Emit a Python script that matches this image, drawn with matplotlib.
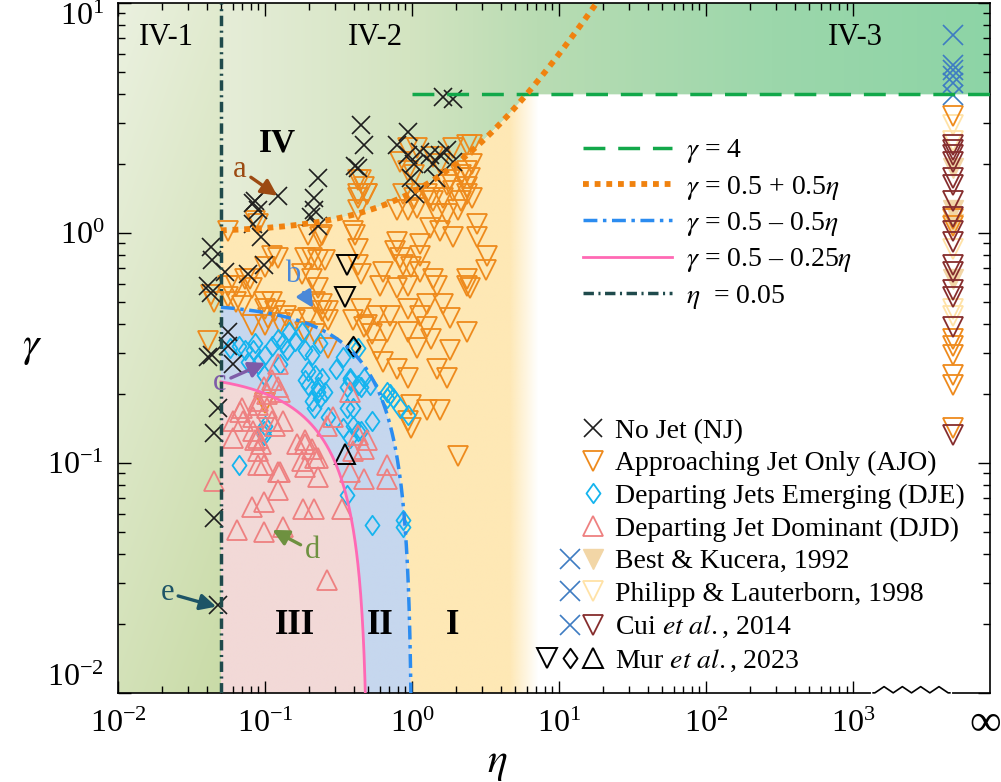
import numpy as np
import matplotlib
matplotlib.use('Agg')
import matplotlib.pyplot as plt
from matplotlib.patches import Polygon
from matplotlib.path import Path
from matplotlib.lines import Line2D
from matplotlib.legend_handler import HandlerTuple
from matplotlib.ticker import FixedLocator, NullFormatter
from matplotlib.colors import to_rgb

plt.rcParams['font.family'] = ['Liberation Serif', 'DejaVu Serif']
plt.rcParams['mathtext.fontset'] = 'stix'

# ---------------- data: (log10 eta, log10 gamma) ----------------
nj = [(-1.37, -0.06), (-1.36, -0.12), (-1.27, -0.17), (-1.39, -0.23), (-1.37, -0.26),
      (-1.25, -0.43), (-1.25, -0.49), (-1.36, -0.53), (-1.39, -0.54), (-1.22, -0.57),
      (-1.32, -0.76), (-1.35, -0.87), (-1.35, -1.24), (-1.32, -1.62),
      (-1.07, 0.14), (-1.08, 0.13), (-1.05, 0.10), (-1.08, 0.04), (-1.03, -0.02),
      (-0.91, 0.16), (-1.01, -0.14), (-1.12, -0.18),
      (-0.64, 0.24), (-0.67, 0.15), (-0.67, 0.10), (-0.69, 0.07), (-0.64, 0.03),
      (-0.35, 0.47), (-0.33, 0.38), (-0.39, 0.29), (-0.37, 0.28),
      (-0.03, 0.44), (-0.10, 0.38), (-0.03, 0.34), (0.01, 0.30), (-0.01, 0.24), (0.02, 0.17),
      (0.05, 0.35), (0.12, 0.34), (0.14, 0.30), (0.19, 0.34), (0.24, 0.36), (0.28, 0.31),
      (0.21, 0.59), (0.28, 0.58), (0.16, 0.24)]

ajo = [(-1.25, 0.01), (-1.37, -0.27), (-1.35, -0.30), (-1.07, 0.05), (-1.05, 0.04),
       (-0.95, -0.10), (-0.91, -0.11), (-1.00, -0.15), (-1.25, -0.23), (-1.20, -0.23),
       (-1.14, -0.20), (-1.10, -0.20), (-1.09, -0.24), (-1.25, -0.28), (-1.20, -0.30),
       (-1.16, -0.32), (-1.01, -0.30), (-1.00, -0.33), (-0.95, -0.30), (-0.93, -0.34),
       (-0.86, -0.36), (-0.80, -0.38), (-0.73, -0.11), (-0.68, -0.11), (-0.64, -0.12),
       (-0.59, -0.12), (-0.71, -0.01), (-0.63, -0.02), (-0.75, -0.18), (-0.68, -0.20),
       (-0.64, -0.24), (-0.66, -0.30), (-0.61, -0.34), (-0.71, -0.37), (-0.57, -0.38),
       (-0.98, -0.37), (-0.90, -0.39), (-1.09, -0.40), (-1.00, -0.40), (-0.73, -0.43),
       (-0.66, -0.44), (-0.57, -0.50), (-1.39, -0.47), (-1.00, -0.74),
       (-0.35, 0.23), (-0.37, 0.17), (-0.31, 0.17), (-0.37, 0.10), (-0.10, 0.10),
       (-0.03, 0.10), (0.03, 0.11), (-0.40, 0.01), (-0.39, -0.01), (-0.37, -0.07),
       (-0.61, -0.01), (-0.10, -0.04), (-0.12, -0.08), (0.05, -0.05), (0.05, -0.10),
       (0.17, 0.08), (0.24, 0.08), (0.31, 0.10), (0.12, 0.02), (0.19, 0.01),
       (0.28, -0.02), (0.44, 0.04), (0.44, -0.02), (0.33, 0.14), (0.37, 0.20),
       (0.39, 0.24), (0.35, 0.24), (0.26, 0.23), (0.21, 0.15), (0.12, 0.15),
       (-0.06, 0.17), (0.01, 0.15), (-0.08, -0.11), (-0.06, -0.14), (-0.01, -0.15),
       (0.05, -0.17), (-0.20, -0.17), (-0.22, -0.23), (-0.10, -0.24), (-0.03, -0.23),
       (0.14, -0.20), (0.17, -0.23), (0.37, -0.20), (0.37, -0.23), (0.39, -0.24),
       (0.10, -0.31), (0.21, -0.31), (0.26, -0.37), (0.05, -0.36), (-0.03, -0.33),
       (-0.15, -0.36), (-0.24, -0.36), (-0.35, -0.33), (-0.31, -0.40), (-0.40, -0.38),
       (-0.57, -0.34), (-0.61, -0.31), (-0.35, -0.18), (-0.37, -0.14), (0.37, -0.43),
       (-0.17, -0.43), (-0.03, -0.43), (0.10, -0.41), (0.03, -0.50), (0.13, -0.46),
       (0.26, -0.51), (0.17, -0.59), (0.24, -0.63), (-0.10, -0.59), (-0.03, -0.63),
       (-0.20, -0.56), (-0.24, -0.51), (-0.01, -0.75), (0.10, -0.77), (0.19, -0.77),
       (-0.03, -0.82), (-0.01, -0.85), (0.31, -0.97), (-0.33, -0.41), (-0.27, -0.44),
       (-0.03, 0.37), (0.03, 0.37), (-0.08, 0.31), (-0.03, 0.27), (0.01, 0.25),
       (0.14, 0.33), (0.19, 0.30), (0.28, 0.37), (0.37, 0.38), (0.41, 0.38),
       (0.33, 0.25), (0.37, 0.27), (0.41, 0.30), (0.24, 0.21), (0.28, 0.18),
       (0.37, 0.17), (0.41, 0.15), (-0.37, 0.23), (-0.33, 0.20), (-0.31, 0.17),
       (-0.37, 0.15), (0.10, 0.17), (0.14, 0.14), (0.51, -0.10), (0.50, -0.16)]

dje = [(-1.18, -0.49), (-1.14, -0.51), (-1.08, -0.51), (-1.12, -0.56), (-1.05, -0.57),
       (-1.01, -0.62), (-1.00, -0.53), (-0.95, -0.49), (-0.91, -0.46), (-0.84, -0.43),
       (-0.80, -0.47), (-0.75, -0.43), (-0.73, -0.51), (-0.68, -0.53), (-0.71, -0.60),
       (-0.66, -0.62), (-0.61, -0.63), (-0.73, -0.64), (-0.64, -0.69), (-0.59, -0.69),
       (-0.68, -0.73), (-0.57, -0.80), (-1.00, -0.84), (-1.01, -0.88), (-1.18, -1.01),
       (-0.52, -0.59), (-0.85, -0.51), (-0.90, -0.57), (-0.71, -0.66), (-0.64, -0.67),
       (-0.63, -0.72), (-0.67, -0.76), (-1.01, -0.86), (-0.44, -0.76), (-0.40, -0.84),
       (-0.47, -0.85), (-0.27, -0.82), (-0.35, -0.86), (-0.44, -1.14), (-0.27, -1.27),
       (-0.06, -1.25), (-0.06, -1.28), (-0.03, -0.79), (-0.17, -0.72), (-0.13, -0.72),
       (-0.17, -0.69), (-0.37, -0.50), (-0.35, -0.67), (-0.42, -0.64), (-0.40, -0.50),
       (-0.47, -0.54), (-0.42, -0.63), (-0.37, -0.66), (-0.44, -0.67), (-0.33, -0.63),
       (-0.29, -0.66), (-0.40, -0.76), (-0.37, -0.86), (-0.42, -0.89), (-0.15, -0.70),
       (-0.08, -0.76), (-1.24, -0.50), (-1.07, -0.48), (-0.88, -0.48), (-0.63, -0.48)]

djd = [(-1.17, -0.78), (-1.22, -0.82), (-1.22, -0.89), (-1.05, -0.89), (-1.03, -0.92),
       (-1.05, -0.95), (-1.01, -1.01), (-0.90, -1.04), (-1.09, -1.19), (-1.01, -1.17),
       (-0.91, -1.12), (-1.35, -1.08), (-1.19, -1.29), (-1.01, -1.30), (-0.88, -1.28),
       (-0.74, -1.20), (-0.67, -1.20), (-0.48, -1.20), (-0.73, -0.92), (-0.66, -0.98),
       (-0.64, -1.06), (-0.73, -1.02), (-0.58, -1.51), (-0.42, -1.04), (-0.33, -1.07),
       (-0.17, -1.01), (-0.17, -1.07), (-0.37, -0.88), (-0.33, -0.94), (-0.40, -0.95),
       (-0.58, -0.84), (-0.54, -0.80), (-0.99, -0.76), (-0.95, -0.82), (-0.90, -0.69),
       (-0.99, -0.70), (-1.05, -0.75), (-1.15, -0.82), (-1.08, -0.86), (-0.95, -0.64),
       (-0.91, -0.67), (-1.01, -0.67), (-1.05, -0.73), (-1.16, -0.76), (-1.08, -0.80),
       (-1.07, -0.90), (-0.93, -0.84), (-0.88, -0.82), (-0.91, -0.57), (-0.73, -0.90),
       (-0.78, -0.92), (-0.68, -0.94), (-0.64, -0.98), (-0.75, -0.99), (-1.05, -1.01),
       (-0.91, -1.04), (-0.42, -0.69), (-0.31, -0.90)]

mur_down = [(-0.44, -0.14), (-0.46, -0.28)]
mur_diamond = [(-0.40, -0.49)]
mur_up = [(-0.46, -0.96)]

# eta -> infinity column (log10 gamma only)
ETA_INF = 4.8e3
inf_nj_lg = [0.86, 0.73, 0.71, 0.68, 0.65, 0.60]
inf_ajo_lg = [0.51, 0.06, 0.03, -0.46, -0.49, -0.53, -0.62, -0.66, -0.85]
inf_best_lg = [0.28, 0.10, 0.04, -0.20]
inf_philipp_lg = [0.47, 0.40, -0.07, -0.36, -0.33]
inf_cui_lg = [0.38, 0.36, 0.34, 0.31, 0.24, 0.21, 0.14, 0.07, 0.01, -0.04,
              -0.14, -0.17, -0.25, -0.28, -0.41, -0.88]

ETA0 = 0.05
XMIN, XMAX = 1e-2, 10 ** 3.93
YMIN, YMAX = 1e-2, 1e1


def xy(pts):
    a = 10 ** np.array(pts, dtype=float)
    return a[:, 0], a[:, 1]


def upper_iv(e):
    return np.minimum(1 + 0.5 * e, 4.0)


def blue_curve(e):
    return 0.5 - 0.5 * e


def pink_curve(e):
    return 0.25 - 0.5 * e


fig = plt.figure(figsize=(10.01, 7.82), dpi=100)
ax = fig.add_axes([0.118, 0.114, 0.871, 0.8824])
ax.set_xscale('log')
ax.set_yscale('log')
ax.set_xlim(XMIN, XMAX)
ax.set_ylim(YMIN, YMAX)

# ---------------- shaded regions ----------------
nx, ny = 700, 300
U, V = np.meshgrid(np.linspace(0, 1, nx), np.linspace(0, 1, ny))
u0 = (np.log10(ETA0) + 2) / (np.log10(XMAX) + 2)


def shade(verts, img):
    patch = Polygon(verts, closed=True, transform=ax.transData, fc='none', ec='none')
    ax.add_patch(patch)
    im = ax.imshow(img, extent=[0, 1, 0, 1], transform=ax.transAxes, origin='lower',
                   aspect='auto', interpolation='bilinear', zorder=0)
    im.set_clip_path(patch)


# IV-1
c_l, c_d = np.array(to_rgb('#EBF1E0')), np.array(to_rgb('#C9DBA7'))
t = np.clip(0.3 * U / u0 + 0.7 * (1 - V), 0, 1)[..., None]
img = np.concatenate([c_l * (1 - t) + c_d * t, np.ones((ny, nx, 1))], axis=2)
shade([(XMIN, YMIN), (ETA0, YMIN), (ETA0, YMAX), (XMIN, YMAX)], img)

# IV-2 / IV-3 band
stops = [0.0, u0, 0.335, 0.48, 0.75, 1.0]
cols = [to_rgb(c) for c in ['#E6EDD8', '#E6EDD8', '#D3E4C1', '#B9DCB3', '#9CD7AB', '#8DD4A6']]
img = np.ones((ny, nx, 4))
for k in range(3):
    img[..., k] = np.interp(U, stops, [c[k] for c in cols])
e = np.logspace(np.log10(ETA0), np.log10(XMAX), 600)
verts = list(zip(e, upper_iv(e))) + [(XMAX, YMAX), (ETA0, YMAX)]
shade(verts, img)

# I (fades to white)
e = np.logspace(np.log10(ETA0), 1.2, 600)
lo = np.clip(blue_curve(e), YMIN, None)
verts = list(zip(e, upper_iv(e))) + list(zip(e[::-1], lo[::-1]))
img = np.ones((ny, nx, 4))
img[..., :3] = to_rgb('#FEE8B5')
ua, ub = (np.log10(4.6) + 2) / 5.93, (np.log10(7.2) + 2) / 5.93
img[..., 3] = np.clip((ub - U) / (ub - ua), 0, 1)
shade(verts, img)

# II
e = np.concatenate([np.logspace(np.log10(ETA0), np.log10(0.9), 300), np.linspace(0.9, 0.99999, 300)[1:]])
hi = np.clip(blue_curve(e), YMIN, None)
lo = np.clip(pink_curve(e), YMIN, None)
img = np.ones((ny, nx, 4))
img[..., :3] = to_rgb('#C6D7EE')
shade(list(zip(e, hi)) + list(zip(e[::-1], lo[::-1])), img)

# III
img = np.ones((ny, nx, 4))
img[..., :3] = to_rgb('#F2D9D7')
shade(list(zip(e, lo)) + [(e[-1], YMIN), (ETA0, YMIN)], img)

# ---------------- data points ----------------
ms = 14
diamond = Path([(0, 1), (0.72, 0), (0, -1), (-0.72, 0), (0, 1)],
               [Path.MOVETO, Path.LINETO, Path.LINETO, Path.LINETO, Path.CLOSEPOLY])

x, y = xy(ajo)
h_ajo, = ax.plot(x, y, 'v', ms=ms, mfc='none', mec='#EE8A1C', mew=1.3, ls='none', zorder=3)
x, y = xy(dje)
h_dje, = ax.plot(x, y, marker=diamond, ms=ms, mfc='none', mec='#15B4EE', mew=1.3, ls='none', zorder=3)
x, y = xy(djd)
h_djd, = ax.plot(x, y, '^', ms=ms, mfc='none', mec='#EE8080', mew=1.3, ls='none', zorder=3)
x, y = xy(nj)
h_nj, = ax.plot(x, y, 'x', ms=13, color='#1E1E1E', mew=1.2, ls='none', zorder=3.5)

x, y = xy(mur_down)
h_mv, = ax.plot(x, y, 'v', ms=ms, mfc='none', mec='black', mew=1.4, ls='none', zorder=3.6)
x, y = xy(mur_diamond)
h_md, = ax.plot(x, y, marker=diamond, ms=ms, mfc='none', mec='black', mew=1.4, ls='none', zorder=3.6)
x, y = xy(mur_up)
h_mu, = ax.plot(x, y, '^', ms=ms, mfc='none', mec='black', mew=1.4, ls='none', zorder=3.6)

h_best, = ax.plot([ETA_INF] * len(inf_best_lg), 10 ** np.array(inf_best_lg), 'v', ms=ms,
                  mfc='#F2D6A6', mec='#F2D6A6', ls='none', zorder=3)
h_phil, = ax.plot([ETA_INF] * len(inf_philipp_lg), 10 ** np.array(inf_philipp_lg), 'v', ms=ms,
                  mfc='none', mec='#FFE2A6', mew=1.3, ls='none', zorder=3)
ax.plot([ETA_INF] * len(inf_ajo_lg), 10 ** np.array(inf_ajo_lg), 'v', ms=ms,
        mfc='none', mec='#EE8A1C', mew=1.3, ls='none', zorder=3)
h_cui, = ax.plot([ETA_INF] * len(inf_cui_lg), 10 ** np.array(inf_cui_lg), 'v', ms=ms,
                 mfc='none', mec='#862D2D', mew=1.3, ls='none', zorder=3.2)
h_bx, = ax.plot([ETA_INF] * len(inf_nj_lg), 10 ** np.array(inf_nj_lg), 'x', ms=14,
                color='#3E7CC2', mew=1.2, ls='none', zorder=3.5)

# ---------------- boundary lines ----------------
e = np.logspace(0, np.log10(XMAX), 50)
l_g4, = ax.plot(e, np.full_like(e, 4.0), color='#12A84A', lw=2.5, ls=(0, (6.3, 3.7)), zorder=4)
e = np.logspace(np.log10(ETA0), 1.4, 300)
l_or, = ax.plot(e, 1 + 0.5 * e, color='#F0820F', lw=4.2, ls=(0, (1, 1)), zorder=4)
e = np.concatenate([np.logspace(np.log10(ETA0), np.log10(0.9), 300), np.linspace(0.9, 0.99999, 300)[1:]])
l_bl, = ax.plot(e, blue_curve(e), color='#2B8CF0', lw=2.5, ls=(0, (4, 1.6, 1, 1.6)), zorder=4)
e = np.concatenate([np.logspace(np.log10(ETA0), np.log10(0.45), 300), np.linspace(0.45, 0.49999, 300)[1:]])
l_pk, = ax.plot(e, pink_curve(e), color='#FF69B4', lw=2.0, zorder=4)
l_e0 = ax.axvline(ETA0, color='#1F4A4C', lw=2.5, ls=(0, (3, 1.3, 0.6, 1.3)), zorder=4)

# ---------------- axes cosmetics ----------------
xt = [1e-2, 1e-1, 1e0, 1e1, 1e2, 1e3]
ax.set_xticks(xt, labels=[r'$\mathdefault{10^{%d}}$' % k for k in range(-2, 4)])
ax.xaxis.set_minor_locator(FixedLocator([m * 10.0 ** d for d in range(-2, 3) for m in range(2, 10)]))
ax.xaxis.set_minor_formatter(NullFormatter())
yt = [1e-2, 1e-1, 1e0, 1e1]
ax.set_yticks(yt, labels=[r'$\mathdefault{10^{%d}}$' % k for k in range(-2, 2)])
ax.yaxis.set_minor_locator(FixedLocator([m * 10.0 ** d for d in range(-2, 1) for m in range(2, 10)]))
ax.yaxis.set_minor_formatter(NullFormatter())
ax.tick_params(which='both', direction='in', top=True, right=True, labelsize=23, width=1.0)
ax.tick_params(which='major', length=9)
ax.tick_params(which='minor', length=5)
ax.tick_params(axis='x', which='major', pad=12)
ax.tick_params(axis='y', which='major', pad=10)
for lbl in ax.get_yticklabels():
    if '{1}' in lbl.get_text():
        lbl.set_va('top')
    if '{-2}' in lbl.get_text():
        lbl.set_va('bottom')
for s in ax.spines.values():
    s.set_linewidth(1.2)

ax.text(0.994, -0.045, '∞', transform=ax.transAxes, fontsize=32, ha='center', va='center')

# axis break on the bottom spine
ax.plot([0.866, 0.954], [0, 0], color='white', lw=3, transform=ax.transAxes, clip_on=False, zorder=5)
zx = np.linspace(0.868, 0.952, 9)
zy = [0, 0.009, 0, 0.009, 0, 0.009, 0, 0.009, 0]
ax.plot([0.866] + list(zx) + [0.954], [0] + zy + [0], color='black', lw=1.2,
        transform=ax.transAxes, clip_on=False, zorder=6)

ax.set_xlabel(r'$\eta$', fontsize=30)
ax.xaxis.set_label_coords(0.435, -0.075)
ax.set_ylabel(r'$\gamma$', fontsize=30, rotation=0, va='center', ha='center')
ax.yaxis.set_label_coords(-0.099, 0.5)

# region labels
for s, ex, gy in [('IV-1', 0.0212, 7.05), ('IV-2', 0.56, 7.05), ('IV-3', 1030, 7.05)]:
    ax.text(ex, gy, s, fontsize=22, ha='center', va='center', zorder=5)
ax.text(0.121, 2.46, 'IV', fontsize=24, fontweight='bold', ha='center', va='center', zorder=5)
for s, ex in [('III', 0.16), ('II', 0.605), ('I', 1.87)]:
    ax.text(ex, 0.0196, s, fontsize=25, fontweight='bold', ha='center', va='center', zorder=5)

# annotations
for s, txt, tip, col in [('a', (0.0676, 1.88), (0.121, 1.45), '#9C4A12'),
                         ('b', (0.153, 0.656), (0.212, 0.472), '#4A88D8'),
                         ('c', (0.0494, 0.223), (0.1, 0.272), '#7E5BA8'),
                         ('d', (0.209, 0.0414), (0.112, 0.0511), '#6E9140'),
                         ('e', (0.0216, 0.0272), (0.0465, 0.0237), '#1D5466')]:
    ax.annotate(s, xy=tip, xytext=txt, fontsize=22, color=col, ha='center', va='center', zorder=6,
                arrowprops=dict(arrowstyle='-|>', color=col, lw=2.4, mutation_scale=24,
                                shrinkA=1, shrinkB=0))

# legends
leg1 = ax.legend([l_g4, l_or, l_bl, l_pk, l_e0],
                 [r'$\gamma$ = 4', r'$\gamma$ = 0.5 + 0.5$\eta$', r'$\gamma$ = 0.5 – 0.5$\eta$',
                  r'$\gamma$ = 0.5 – 0.25$\eta$', r'$\eta$  = 0.05'],
                 loc='upper left', bbox_to_anchor=(0.533, 0.805), frameon=False, fontsize=20,
                 handlelength=3.2, handletextpad=0.5, labelspacing=0.3, borderpad=0, borderaxespad=0)
ax.add_artist(leg1)

blank = Line2D([], [], ls='none', marker='none')
rows = [((blank, blank, h_nj), 'No Jet (NJ)'),
        ((blank, blank, h_ajo), 'Approaching Jet Only (AJO)'),
        ((blank, blank, h_dje), 'Departing Jets Emerging (DJE)'),
        ((blank, blank, h_djd), 'Departing Jet Dominant (DJD)'),
        ((blank, h_bx, h_best), 'Best & Kucera, 1992'),
        ((blank, h_bx, h_phil), 'Philipp & Lauterborn, 1998'),
        ((blank, h_bx, h_cui), r'Cui $\it{et\ al.}$, 2014'),
        ((h_mv, h_md, h_mu), r'Mur $\it{et\ al.}$, 2023')]
ax.legend([r[0] for r in rows], [r[1] for r in rows],
          handler_map={tuple: HandlerTuple(ndivide=None, pad=0)},
          loc='upper left', bbox_to_anchor=(0.479, 0.398), frameon=False, fontsize=20, numpoints=1,
          handlelength=2.48, handletextpad=0.38, labelspacing=0.26, borderpad=0, borderaxespad=0)

fig.savefig('out.png', dpi=100)
